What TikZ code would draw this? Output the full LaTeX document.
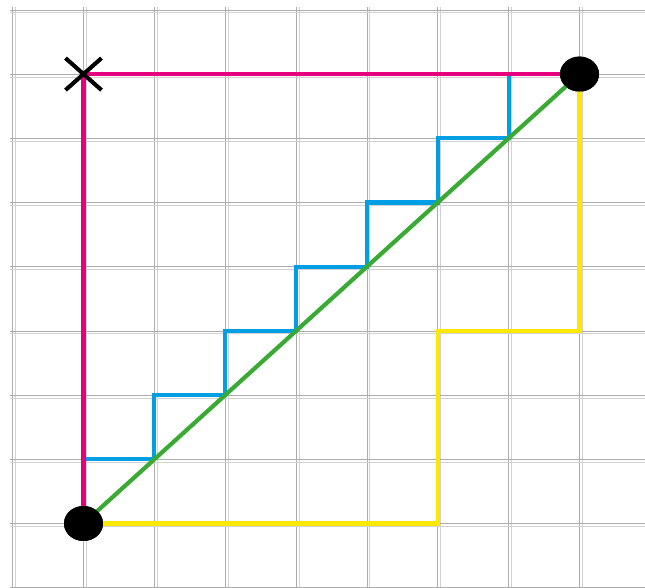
\documentclass[tikz,border=0pt]{standalone}
\usetikzlibrary{shapes.geometric,shapes.misc}
\definecolor{pinkc}{RGB}{230,0,126}
\definecolor{bluec}{RGB}{0,159,227}
\definecolor{greenc}{RGB}{58,170,53}
\definecolor{yellowc}{RGB}{255,232,0}
\tikzset{
  gridA/.style={draw=gray!65,line width=0.7pt},
  gridB/.style={draw=gray!35,line width=0.9pt},
  route/.style={line width=4.2pt},
  dot/.style={ellipse,fill=black,inner sep=0pt,minimum width=39pt,minimum height=35pt},
  xmark/.style={cross out,draw=black,line width=3.8pt,inner sep=0pt,minimum width=32pt,minimum height=28pt},
}
\begin{document}
\begin{tikzpicture}[x=70.86pt,y=64.2pt]
\useasboundingbox (-1.1784,-1.0047) rectangle (7.9242,8.1542);
% grid
\begin{scope}
\clip (-1.1784,-1.0047) rectangle (7.9242,8.1542);
\foreach \i in {-1,...,7} {
  \draw[gridA] (\i,-1.1) -- (\i,8.04);
  \draw[gridB] ([xshift=3pt]\i,-1.1) -- ([xshift=3pt]\i,8.04);
}
\foreach \j in {-1,...,8} {
  \draw[gridA] (-1.04,\j) -- (8,\j);
  \draw[gridB] ([yshift=-3pt]-1.04,\j) -- ([yshift=-3pt]8,\j);
}
\end{scope}
% corners
\coordinate (s0) at (0,1);
\coordinate (s1) at (1,1);
\coordinate (s2) at (1,2);
\coordinate (s3) at (2,2);
\coordinate (s4) at (2,3);
\coordinate (s5) at (3,3);
\coordinate (s6) at (3,4);
\coordinate (s7) at (4,4);
\coordinate (s8) at (4,5);
\coordinate (s9) at (5,5);
\coordinate (s10) at (5,6);
\coordinate (s11) at (6,6);
\coordinate (s12) at (6,7);
\coordinate (y1) at (5,0);
\coordinate (y2) at (5,3);
\coordinate (y3) at (7,3);
\node[dot] (start) at (0,0) {};
\node[dot] (goal) at (7,7) {};
\node[xmark] (cross) at (0,7) {};
% routes
\draw[route,bluec,line join=miter] (s0) -- (s1) -- (s2) -- (s3) -- (s4) -- (s5) -- (s6) -- (s7) -- (s8) -- (s9) -- (s10) -- (s11) -- (s12);
\draw[route,yellowc,line join=miter] (start.center) -- (y1) -- (y2) -- (y3) -- (goal.center);
\draw[route,pinkc,line join=miter] (start.center) -- (cross.center) -- (goal.center);
\draw[route,greenc] (start.center) -- (goal.center);
% redraw markers on top
\node[dot] at (start) {};
\node[dot] at (goal) {};
\node[xmark] at (cross) {};
\end{tikzpicture}
\end{document}
